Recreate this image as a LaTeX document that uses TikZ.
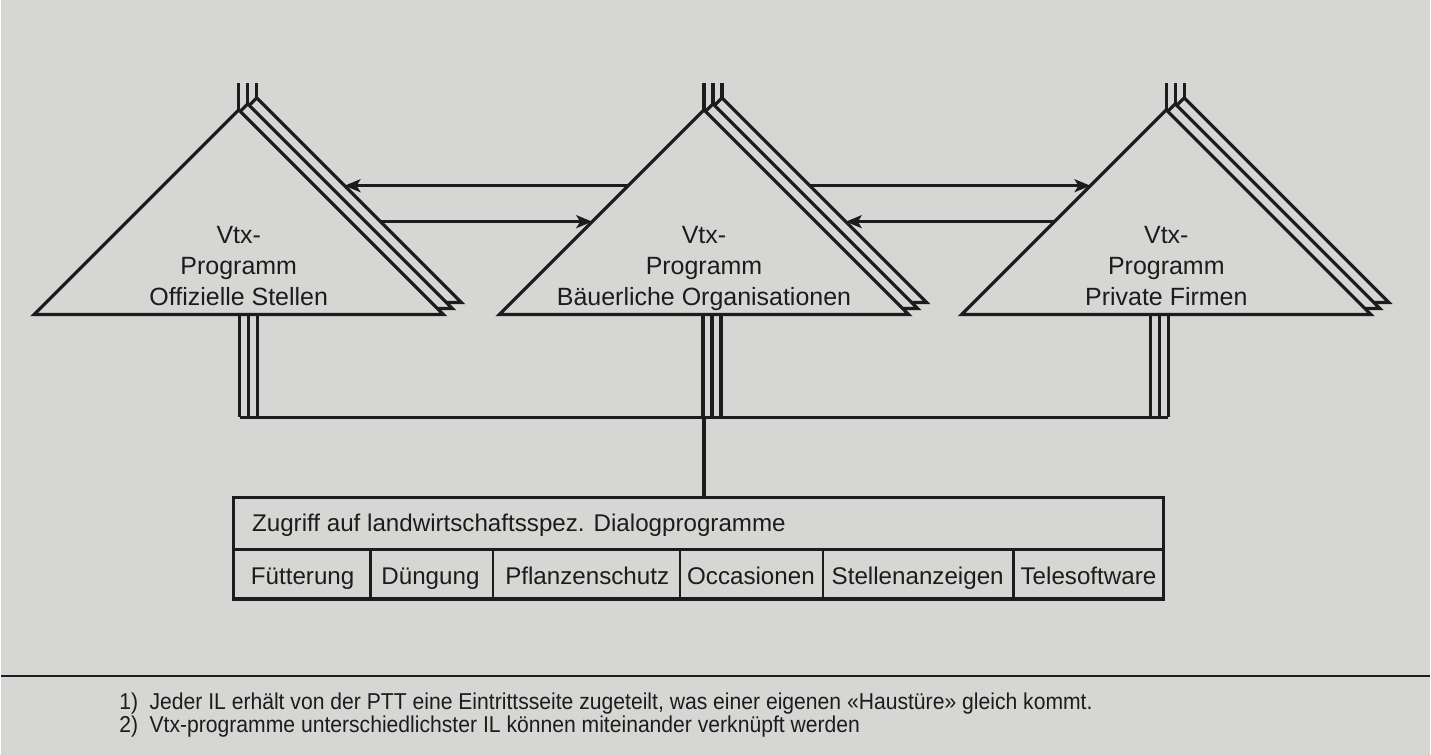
\documentclass[tikz,border=0pt]{standalone}
\usepackage{fontspec}
\setmainfont{Liberation Sans}
\newfontfamily\notefont[FakeStretch=0.92]{Liberation Sans}
\usetikzlibrary{arrows.meta}
\definecolor{paper}{RGB}{214,214,212}
\definecolor{ink}{RGB}{28,28,28}

\begin{document}
\begin{tikzpicture}[x=0.5pt,y=-0.5pt,
  line/.style={ink,line width=1.6pt,line join=miter},
  thinline/.style={ink,line width=1.1pt},
  link/.style={ink,line width=1.4pt,-{Stealth[length=8pt,width=6.5pt,inset=2pt]}},
  proglabel/.style={align=center,anchor=north,font=\fontsize{12.5}{15.5}\selectfont,text=ink,inner sep=0pt},
  celltext/.style={anchor=base,font=\fontsize{12.1}{14}\selectfont,text=ink,inner sep=0pt},
  notetext/.style={anchor=base west,font=\notefont\fontsize{11.5}{11.5}\selectfont,text=ink,inner sep=0pt}]

\fill[paper] (0,0) rectangle (1431,756); %background

% program triangles, each with two sheets behind it
\foreach \n/\x/\who in {1/238/Offizielle Stellen,2/704/Bäuerliche Organisationen,3/1167/Private Firmen}{
  \foreach \k in {2,1,0}{
    \draw[line,fill=paper] (\x+9*\k-205,315-6*\k) -- (\x+9*\k,110-6*\k) -- (\x+9*\k+205,315-6*\k) -- cycle;
    \draw[line] (\x+9*\k,110-6*\k) -- (\x+9*\k,83); %input line
  }
  \node[proglabel] (prog\n) at (\x,226) {Vtx-\\Programm\\\who};
  \coordinate (l\n-up) at (\x-76,186);
  \coordinate (l\n-lo) at (\x-112,222);
  \coordinate (r\n-up) at (\x+106,186);
  \coordinate (r\n-lo) at (\x+142,222);
}

% links between the programs
\draw[link] (l2-up) -- (r1-up);
\draw[link] (r1-lo) -- (l2-lo);
\draw[link] (r2-up) -- (l3-up);
\draw[link] (l3-lo) -- (r2-lo);

% triple outputs down to the common line
\foreach \x in {239,248,257,703,712,721,1151,1160,1169}{
  \draw[line] (\x,315) -- (\x,418);
}
\coordinate (busleft) at (239,418);
\coordinate (busright) at (1169,418);
\coordinate (bus) at (704,418);
\draw[line] (busleft) -- (busright);

% dialog programs
\coordinate (boxtop) at (704,498);
\draw[line] (bus) -- (boxtop);
\draw[line] (233,498) rectangle (1164,600);
\draw[line] (233,550) -- (1164,550);
\node[celltext,anchor=base west] (zugriff) at (251,532) {Zugriff auf landwirtschaftsspez. Dialogprogramme};
\foreach \x in {370,493,680,823,1014}{
  \draw[thinline] (\x,550) -- (\x,600);
}
\node[celltext] (fuett) at (302,585) {Fütterung};
\node[celltext] (dueng) at (430,585) {Düngung};
\node[celltext] (pflanz) at (587,585) {Pflanzenschutz};
\node[celltext] (occ) at (751,585) {Occasionen};
\node[celltext] (stellen) at (918,585) {Stellenanzeigen};
\node[celltext] (tele) at (1089,585) {Telesoftware};

% footnotes
\draw[thinline] (0,677) -- (1431,677);
\node[notetext] (note1) at (118,711) {1)\enspace Jeder IL erhält von der PTT eine Eintrittsseite zugeteilt, was einer eigenen «Haustüre» gleich kommt.};
\node[notetext] (note2) at (118,734) {2)\enspace Vtx-programme unterschiedlichster IL können miteinander verknüpft werden};

\end{tikzpicture}
\end{document}
